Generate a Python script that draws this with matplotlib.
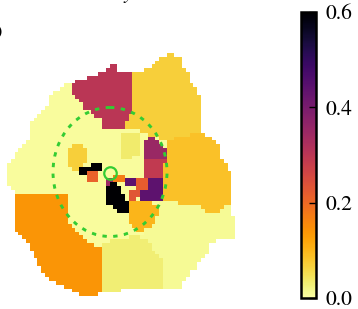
import numpy as np
import matplotlib
matplotlib.use("Agg")
import matplotlib.pyplot as plt
from matplotlib.path import Path
from matplotlib.patches import Ellipse

plt.rcParams['font.family'] = ['STIXGeneral', 'Liberation Serif', 'DejaVu Serif']
plt.rcParams['mathtext.fontset'] = 'stix'

# map outline and the region shapes, in picture units (x right, y down)
outline = [(7, 163), (13, 158), (17, 152), (23, 147), (28, 140), (29, 133), (32, 122), (37, 117),
           (42, 112), (47, 105), (49, 98), (53, 93), (58, 90), (63, 85), (70, 83), (73, 82),
           (85, 78), (92, 77), (98, 73), (103, 71), (108, 68), (110, 64), (116, 64), (118, 70),
           (133, 73), (140, 72), (150, 67), (153, 63), (157, 60), (163, 57), (167, 53), (173, 53),
           (175, 57), (180, 58), (182, 65), (187, 70), (190, 82), (193, 85), (197, 92), (202, 102),
           (202, 133), (207, 136), (213, 140), (220, 147), (222, 160), (227, 167), (230, 173),
           (230, 203), (232, 210), (236, 228), (236, 238), (220, 238), (210, 245), (207, 252),
           (200, 262), (197, 267), (190, 272), (187, 277), (183, 283), (182, 288), (163, 288),
           (140, 290), (102, 291), (97, 297), (85, 297), (75, 292), (65, 288), (53, 282),
           (45, 276), (40, 268), (35, 255), (28, 245), (20, 235), (15, 230), (15, 192), (7, 185)]
base_value = 0.005

crimson_top = [(73, 82), (85, 78), (92, 77), (98, 73), (103, 71), (108, 68), (110, 64), (116, 64),
               (118, 70), (133, 73), (133, 110), (128, 118), (125, 128), (102, 128), (100, 118),
               (93, 115), (88, 110), (82, 107), (80, 98), (73, 96)]
yellow_top_right = [(133, 73), (140, 72), (150, 67), (153, 63), (157, 60), (163, 57), (167, 53),
                    (173, 53), (175, 57), (180, 58), (182, 65), (187, 70), (190, 82), (193, 85),
                    (197, 92), (202, 102), (202, 133), (187, 135), (167, 140), (157, 138),
                    (145, 133), (138, 130), (125, 130), (128, 118), (133, 110)]
right_region = [(167, 140), (187, 135), (200, 133), (207, 136), (213, 140), (220, 147), (222, 160),
                (227, 167), (230, 173), (230, 203), (223, 205), (220, 212), (203, 212), (203, 207),
                (177, 203), (163, 202), (163, 190), (165, 158), (165, 150)]
bottom_right = [(157, 205), (163, 202), (177, 203), (203, 207), (203, 212), (220, 212), (223, 205),
                (230, 203), (232, 210), (236, 228), (236, 238), (220, 238), (210, 245), (207, 252),
                (200, 262), (197, 267), (190, 272), (187, 277), (183, 283), (182, 288), (163, 288),
                (163, 262), (157, 255), (150, 245), (145, 240), (140, 236), (145, 230), (152, 226),
                (157, 220)]
bottom_mid = [(102, 245), (110, 241), (125, 238), (140, 236), (145, 240), (150, 245), (157, 255),
              (163, 262), (163, 288), (140, 290), (102, 291)]
orange_left = [(15, 192), (68, 192), (68, 218), (72, 228), (80, 236), (88, 242), (102, 248),
               (102, 291), (97, 297), (85, 297), (75, 292), (65, 288), (53, 282), (45, 276),
               (40, 268), (35, 255), (28, 245), (20, 235), (15, 230)]

# small cells round the centre
yellow_blob = [(72, 144), (82, 143), (86, 148), (87, 160), (84, 167), (75, 170), (69, 166), (68, 150)]
green_block = [(120, 135), (135, 133), (140, 135), (141, 157), (122, 158), (120, 150)]
magenta_cell = [(143, 140), (150, 137), (157, 140), (162, 145), (165, 150), (165, 158), (142, 158)]
crimson_cell = [(142, 158), (165, 158), (164, 178), (142, 180)]
orange_yellow = [(130, 203), (140, 200), (150, 203), (157, 205), (158, 215), (155, 222), (150, 228),
                 (143, 230), (135, 230), (130, 225)]
black_a = [(80, 166), (90, 166), (90, 162), (101, 162), (101, 170), (88, 170), (88, 176), (80, 176)]
red_a = [(88, 170), (100, 170), (100, 183), (88, 183)]
orange_small = [(113, 175), (125, 175), (125, 183), (113, 183)]
purple_small = [(125, 177), (138, 177), (138, 187), (125, 187)]
magenta_small = [(105, 178), (113, 178), (113, 187), (105, 187)]
red_b = [(138, 178), (147, 178), (147, 190), (138, 192)]
purple_big = [(147, 178), (163, 178), (163, 200), (140, 200), (138, 192), (147, 190)]
red_c = [(127, 188), (138, 188), (140, 198), (133, 202), (128, 200)]
black_b = [(107, 185), (115, 183), (118, 185), (120, 190), (125, 193), (125, 200), (130, 203),
           (130, 212), (125, 214), (117, 214), (115, 208), (110, 204), (105, 203), (105, 190)]

regions = [crimson_top, yellow_top_right, right_region, bottom_right, bottom_mid, orange_left,
           yellow_blob, green_block, magenta_cell, crimson_cell, orange_yellow, black_a, red_a,
           orange_small, purple_small, magenta_small, red_b, purple_big, red_c, black_b]
region_values = [0.30, 0.07, 0.085, 0.01, 0.03, 0.14,
                 0.07, 0.035, 0.35, 0.29, 0.10, 0.60, 0.21,
                 0.17, 0.44, 0.35, 0.22, 0.44, 0.23, 0.60]

cbar_ticks = [0.0, 0.2, 0.4, 0.6]
cbar_labels = ["0.0", "0.2", "0.4", "0.6"]


def rasterize(x0, y0, cell, ncol, nrow):
    """fill a cell grid from the outline and the region shapes"""
    xs = x0 + (np.arange(ncol) + 0.5) * cell
    ys = y0 + (np.arange(nrow) + 0.5) * cell
    gx, gy = np.meshgrid(xs, ys)
    pts = np.column_stack([gx.ravel(), gy.ravel()])
    grid = np.full(gx.shape, np.nan)
    inside = Path(outline).contains_points(pts).reshape(gx.shape)
    grid[inside] = base_value
    for shape, val in zip(regions, region_values):
        m = Path(shape).contains_points(pts).reshape(gx.shape)
        grid[m & inside] = val
    return grid


def main():
    fig = plt.figure(figsize=(3.58, 3.09), dpi=100)
    ax = fig.add_axes([0, 0, 1, 1])

    x0, y0, cell = 7, 53, 3.8
    ncol, nrow = 61, 65
    grid = rasterize(x0, y0, cell, ncol, nrow)

    im = ax.imshow(grid, cmap="inferno_r", vmin=0, vmax=0.6, interpolation="nearest",
                   extent=(x0, x0 + ncol * cell, y0 + nrow * cell, y0), aspect="auto")

    ax.add_patch(Ellipse((110, 172), 114, 129, fill=False, ec="#33cc33", lw=2.1,
                         ls=(0, (1.5, 2.2))))
    ax.plot([110], [173], "o", ms=9, mfc="none", mec="#33cc33", mew=1.6)

    ax.set_xlim(0, 358)
    ax.set_ylim(309, 0)
    ax.axis("off")

    fig.text(3 / 358, 1 - 32 / 309, "(b)", ha="right", va="center", fontsize=13)
    fig.text(128 / 358, 1 + 1 / 309, "y", ha="center", va="baseline", fontsize=15, style="italic")

    cax = fig.add_axes([301 / 358, 11 / 309, 15 / 358, 286 / 309])
    cb = fig.colorbar(im, cax=cax, ticks=cbar_ticks)
    cb.ax.set_yticklabels(cbar_labels)
    cb.ax.tick_params(direction="in", length=5, width=1, labelsize=15.5, pad=7)
    cb.outline.set_linewidth(1.8)

    fig.savefig("out.png", dpi=100)


if __name__ == "__main__":
    main()
